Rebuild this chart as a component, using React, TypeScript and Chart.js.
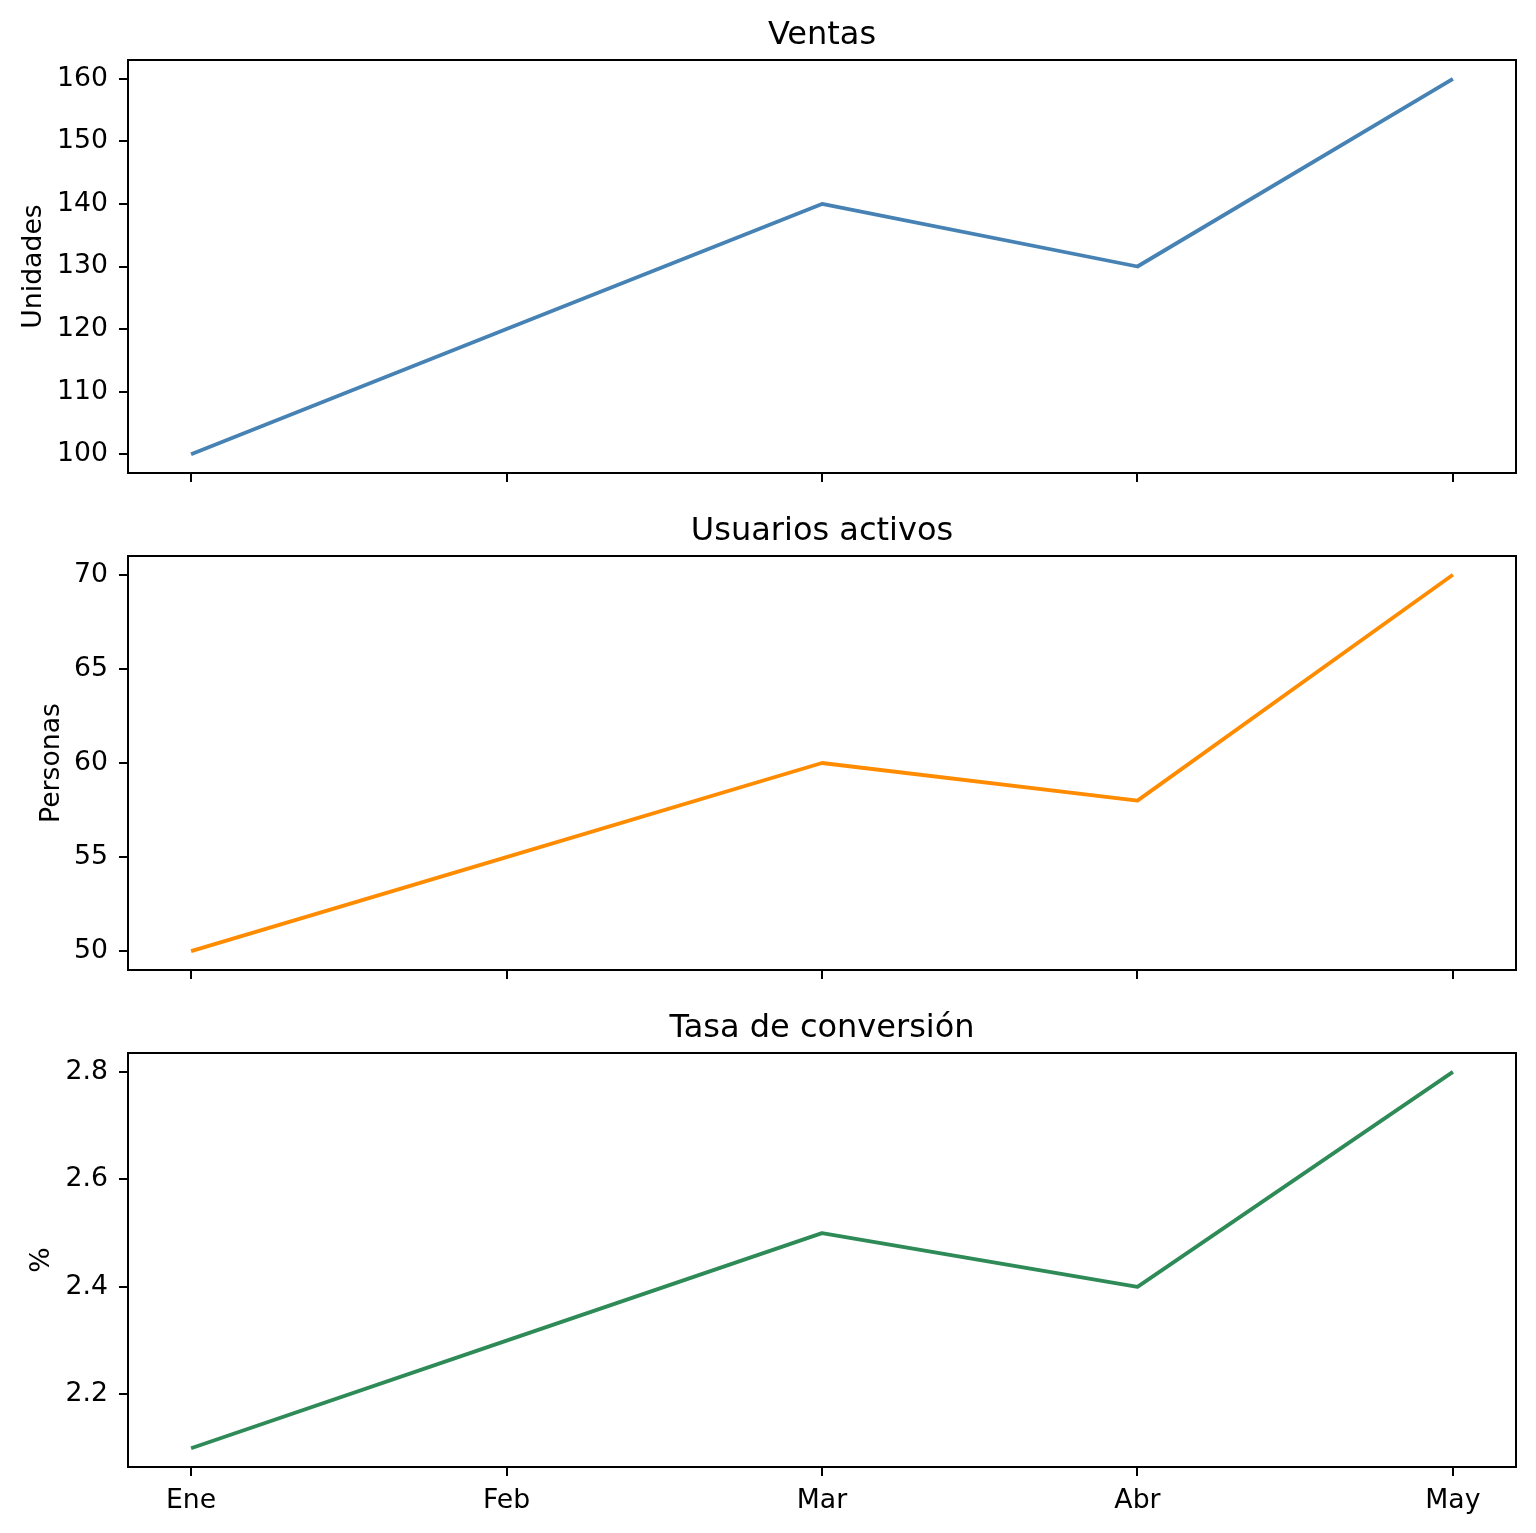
import React, { useEffect, useRef } from 'react';
import { Chart, registerables } from 'chart.js';

Chart.register(...registerables);

const months = ['Ene', 'Feb', 'Mar', 'Abr', 'May'];
const ventas = [100, 120, 140, 130, 160];
const usuarios = [50, 55, 60, 58, 70];
const tasa = [2.1, 2.3, 2.5, 2.4, 2.8];
const ventasTicks = [100, 110, 120, 130, 140, 150, 160];
const usuariosTicks = [50, 55, 60, 65, 70];
const tasaTicks = [2.2, 2.4, 2.6, 2.8];

const FONT = "'DejaVu Sans', sans-serif";
const TICK_SIZE = 26.7;
const TITLE_SIZE = 32;

type PanelDef = {
  title: string;
  ylabel: string;
  values: number[];
  ticks: number[];
  color: string;
  top: number;
  height: number;
  xHeight: number;
  showX: boolean;
  ylabelPad: number;
};

const panels: PanelDef[] = [
  { title: 'Ventas', ylabel: 'Unidades', values: ventas, ticks: ventasTicks, color: '#4682B4', top: 0, height: 503, xHeight: 30, showX: false, ylabelPad: 18 },
  { title: 'Usuarios activos', ylabel: 'Personas', values: usuarios, ticks: usuariosTicks, color: '#FF8C00', top: 496, height: 504, xHeight: 30, showX: false, ylabelPad: 36 },
  { title: 'Tasa de conversión', ylabel: '%', values: tasa, ticks: tasaTicks, color: '#2E8B57', top: 993, height: 540, xHeight: 66, showX: true, ylabelPad: 26 },
];

const framePlugin = {
  id: 'frame',
  afterDraw(chart: any) {
    const { ctx, chartArea: a } = chart;
    ctx.save();
    ctx.strokeStyle = '#000';
    ctx.lineWidth = 2;
    ctx.strokeRect(a.left, a.top, a.right - a.left, a.bottom - a.top);
    ctx.restore();
  },
};

function Panel({ def }: { def: PanelDef }) {
  const ref = useRef<HTMLCanvasElement | null>(null);
  useEffect(() => {
    if (!ref.current) return;
    const vmin = Math.min(...def.values);
    const vmax = Math.max(...def.values);
    const m = (vmax - vmin) * 0.05;
    const n = months.length - 1;
    const chart = new Chart(ref.current, {
      type: 'line',
      data: {
        datasets: [
          {
            data: def.values.map((v, i) => ({ x: i, y: v })),
            borderColor: def.color,
            borderWidth: 3.8,
            pointRadius: 0,
            tension: 0,
            fill: false,
            borderJoinStyle: 'round',
          },
        ],
      },
      options: {
        responsive: false,
        animation: false,
        layout: { padding: { left: 0, right: 20, top: 0, bottom: 0 } },
        plugins: {
          legend: { display: false },
          tooltip: { enabled: false },
          title: {
            display: true,
            text: def.title,
            fullSize: false,
            color: '#000',
            font: { family: FONT, size: TITLE_SIZE, weight: 'normal', lineHeight: 1.2 },
            padding: { top: 16.8, bottom: 4.8 },
          },
        },
        scales: {
          x: {
            type: 'linear',
            min: -n * 0.05,
            max: n * 1.05,
            afterBuildTicks: (scale: any) => {
              scale.ticks = months.map((_, i) => ({ value: i }));
            },
            afterFit: (scale: any) => {
              scale.height = def.xHeight;
            },
            grid: {
              display: true,
              drawOnChartArea: false,
              drawTicks: true,
              tickLength: 9,
              color: '#000',
              lineWidth: 2,
            },
            border: { display: false },
            ticks: {
              display: def.showX,
              autoSkip: false,
              maxRotation: 0,
              padding: 9,
              color: '#000',
              font: { family: FONT, size: TICK_SIZE },
              callback: (v: any) => months[Math.round(Number(v))] ?? '',
            },
          },
          y: {
            type: 'linear',
            min: vmin - m,
            max: vmax + m,
            afterBuildTicks: (scale: any) => {
              scale.ticks = def.ticks.map((v) => ({ value: v }));
            },
            afterFit: (scale: any) => {
              scale.width = 128;
            },
            grid: {
              display: true,
              drawOnChartArea: false,
              drawTicks: true,
              tickLength: 9,
              color: '#000',
              lineWidth: 2,
            },
            border: { display: false },
            ticks: {
              autoSkip: false,
              padding: 11,
              color: '#000',
              font: { family: FONT, size: TICK_SIZE },
              callback: (v: any) => String(v),
            },
            title: {
              display: true,
              text: def.ylabel,
              color: '#000',
              font: { family: FONT, size: TICK_SIZE, lineHeight: 1.2 },
              padding: { top: def.ylabelPad, bottom: 0 },
            },
          },
        },
      },
      plugins: [framePlugin],
    } as any);
    return () => chart.destroy();
  }, [def]);
  return (
    <canvas
      ref={ref}
      width={1536}
      height={def.height}
      style={{ position: 'absolute', left: 0, top: def.top, width: 1536, height: def.height }}
    />
  );
}

export default function App() {
  return (
    <div style={{ position: 'absolute', left: 0, top: 0, width: 1536, height: 1533, background: '#fff', overflow: 'hidden' }}>
      {panels.map((p) => (
        <Panel key={p.title} def={p} />
      ))}
    </div>
  );
}
